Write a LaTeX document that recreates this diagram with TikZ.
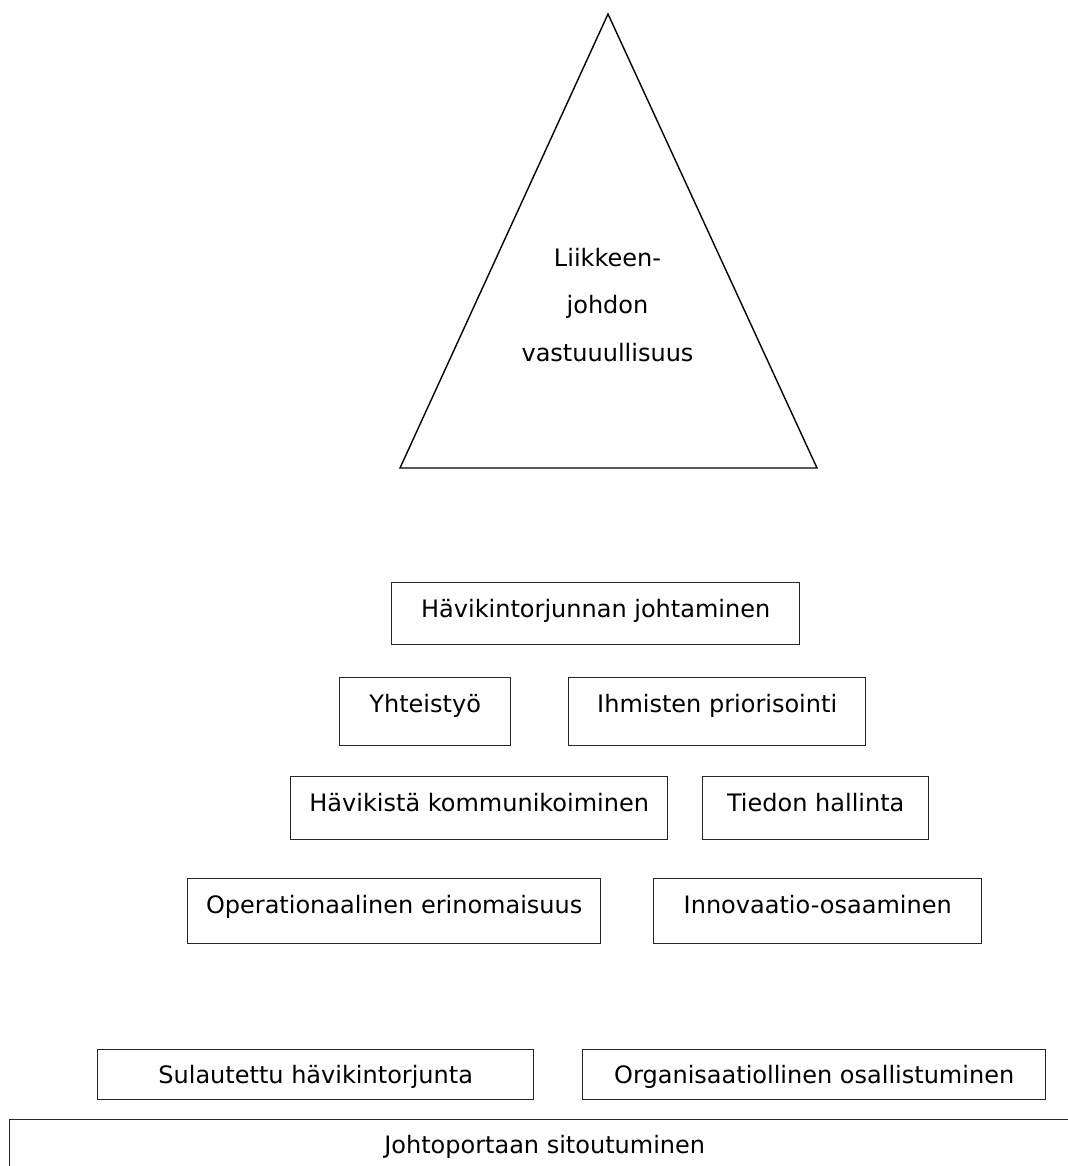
\documentclass[tikz,border=0pt]{standalone}
\usepackage{fontspec}
\setmainfont{DejaVu Sans}
\begin{document}
\begin{tikzpicture}[x=1bp,y=-1bp,
  box/.style={draw=black!85, line width=1.4bp, inner sep=0pt, anchor=north west,
    font=\fontsize{24bp}{28bp}\selectfont, text height=35bp},
  lbl/.style={inner sep=0pt, anchor=base, font=\fontsize{24bp}{28bp}\selectfont},
  edge/.style={draw=black, line width=1.4bp, line join=miter}
]
\useasboundingbox (0,0) rectangle (1068,1166);

% triangle
\coordinate (apex) at (608,14);
\coordinate (bl) at (400,468);
\coordinate (br) at (817,468);
\draw[edge] (apex) -- (br) -- (bl) -- cycle;
\node[lbl] (t1) at (607.5,266) {Liikkeen-};
\node[lbl] (t2) at (607.5,313) {johdon};
\node[lbl] (t3) at (607.5,361) {vastuuullisuus};

% row 1
\node[box, minimum width=408bp, text depth=27bp] (hj) at (391,582) {Hävikintorjunnan johtaminen};
% row 2
\node[box, minimum width=171bp, text depth=33bp] (yt) at (339,677) {Yhteistyö};
\node[box, minimum width=297bp, text depth=33bp] (ip) at (568,677) {Ihmisten priorisointi};
% row 3
\node[box, minimum width=377bp, text depth=28bp] (hk) at (290,776) {Hävikistä kommunikoiminen};
\node[box, minimum width=226bp, text depth=28bp] (th) at (702,776) {Tiedon hallinta};
% row 4
\node[box, minimum width=413bp, text depth=30bp] (oe) at (187,878) {Operationaalinen erinomaisuus};
\node[box, minimum width=328bp, text depth=30bp] (io) at (653,878) {Innovaatio-osaaminen};
% row 5
\node[box, minimum width=436bp, text height=34bp, text depth=16bp] (sh) at (97,1049) {Sulautettu hävikintorjunta};
\node[box, minimum width=463bp, text height=34bp, text depth=16bp] (oo) at (582,1049) {Organisaatiollinen osallistuminen};
% row 6 (cut off by the page edge)
\begin{scope}
\clip (0,0) rectangle (1068,1166);
\node[box, minimum width=1070bp, text height=34bp, text depth=40bp] (js) at (9,1119) {Johtoportaan sitoutuminen};
\end{scope}
\end{tikzpicture}
\end{document}
